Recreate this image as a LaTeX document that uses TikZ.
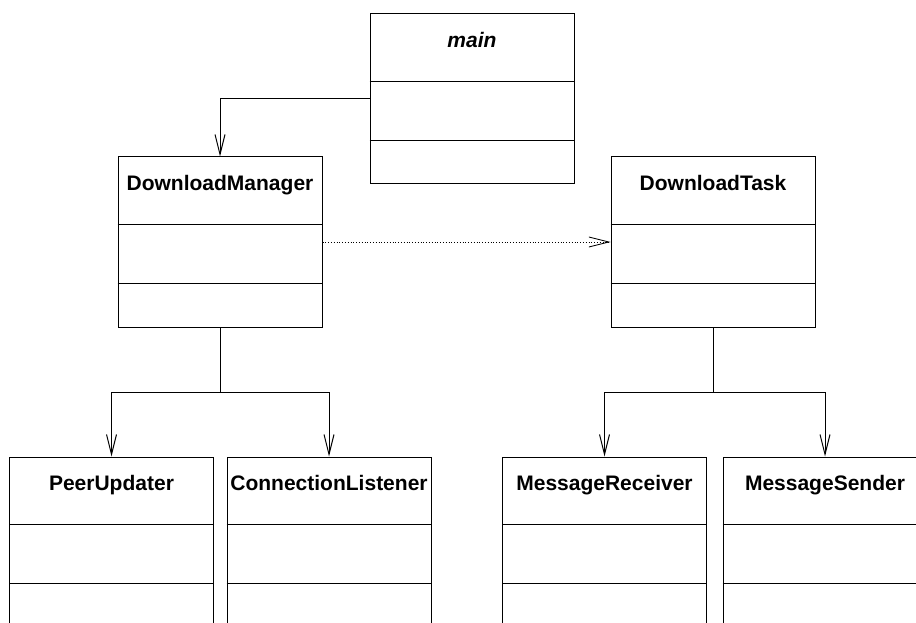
\documentclass[tikz,border=0pt]{standalone}
\usepackage{fontspec}
\setmainfont{Liberation Sans}
\usetikzlibrary{arrows.meta}
\usetikzlibrary{positioning}

\begin{document}
\begin{tikzpicture}[x=1pt, y=-1pt, line width=1pt,
        umlclass/.style={draw, minimum width=204pt, minimum height=170pt, inner sep=0pt},
        classname/.style={inner sep=0pt, font=\fontsize{21}{25}\selectfont\bfseries},
        assoc/.style={-{Straight Barb[length=20pt,width=10pt]}}]
        \useasboundingbox (0,0) rectangle (916,623);
        \clip (0,0) rectangle (916,623);
        % classes
        \node (main) at (472,99) [umlclass] {};
        \node (manager) at (220,242) [umlclass] {};
        \node (task) at (713,242) [umlclass] {};
        \node (peer) at (111.5,542) [umlclass] {};
        \node (listener) at (329,542) [umlclass] {};
        \node (receiver) at (604.5,542) [umlclass] {};
        \node (sender) at (825,542) [umlclass] {};
        \node (maintitle) [below=18pt of main.north, classname, font=\fontsize{21}{25}\selectfont\bfseries\itshape] {main};
        \node (managertitle) [below=18pt of manager.north, classname] {DownloadManager};
        \node (tasktitle) [below=18pt of task.north, classname] {DownloadTask};
        \node (peertitle) [below=18pt of peer.north, classname] {PeerUpdater};
        \node (listenertitle) [below=18pt of listener.north, classname] {ConnectionListener};
        \node (receivertitle) [below=18pt of receiver.north, classname] {MessageReceiver};
        \node (sendertitle) [below=18pt of sender.north, classname] {MessageSender};
        \foreach \c in {main,manager,task,peer,listener,receiver,sender} {
            \draw (\c.north west) ++(0,68) -- ++(204,0);
            \draw (\c.north west) ++(0,127) -- ++(204,0);
        }
        % connectors
        \coordinate (managerfork) at (220,392);
        \coordinate (taskfork) at (713,392);
        \draw (main.west) [assoc] -| (manager.north);
        \draw (manager.east) [assoc, dotted, line width=0.8pt] -- (task.west);
        \draw (manager.south) -- (managerfork);
        \draw (managerfork) [assoc] -| (peer.north);
        \draw (managerfork) [assoc] -| (listener.north);
        \draw (task.south) -- (taskfork);
        \draw (taskfork) [assoc] -| (receiver.north);
        \draw (taskfork) [assoc] -| (sender.north);
    \end{tikzpicture}
\end{document}
